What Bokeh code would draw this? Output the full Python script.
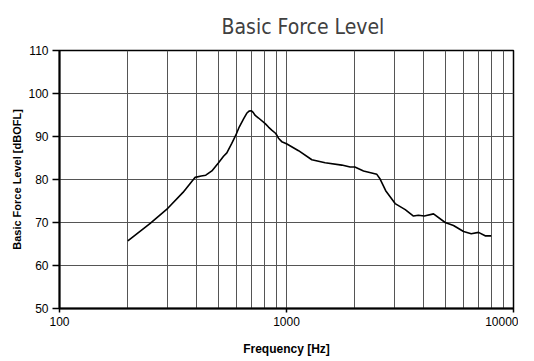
from bokeh.plotting import figure
from bokeh.embed import file_html
from bokeh.resources import INLINE
from bokeh.models import Range1d, FixedTicker, NumeralTickFormatter

freq = [200, 251, 300, 350, 396, 421, 441, 469, 502, 528, 546, 574, 598, 619, 647, 668, 684,
        699, 713, 728, 753, 806, 833, 861, 897, 922, 953, 1000, 1130, 1293, 1480, 1752, 1907,
        2000, 2184, 2500, 2585, 2735, 3010, 3335, 3625, 3810, 4045, 4443, 5000, 5441, 6025,
        6512, 7013, 7500, 7977]
level = [65.7, 69.8, 73.3, 77.0, 80.5, 80.8, 81.0, 82.0, 83.9, 85.4, 86.2, 88.4, 90.3, 92.2,
         94.1, 95.4, 95.9, 96.0, 95.6, 94.9, 94.3, 93.0, 92.2, 91.5, 90.7, 89.6, 88.8, 88.3,
         86.7, 84.6, 83.9, 83.35, 82.9, 82.9, 82.0, 81.2, 80.1, 77.4, 74.4, 73.0, 71.5, 71.7,
         71.5, 72.0, 70.0, 69.3, 67.9, 67.4, 67.7, 66.9, 66.9]
y_ticks = [50, 60, 70, 80, 90, 100, 110]
x_ticks = [100, 1000, 10000]
x_minor = [200, 300, 400, 500, 600, 700, 800, 900,
           2000, 3000, 4000, 5000, 6000, 7000, 8000, 9000]

p = figure(width=518, height=358, x_axis_type="log", output_backend="svg",
           toolbar_location=None, x_range=Range1d(100, 10000), y_range=Range1d(50, 110),
           min_border_left=59, min_border_right=5, min_border_top=44, min_border_bottom=50)

p.title.text = "Basic Force Level"
p.title.align = "left"
p.title.offset = 162
p.title.standoff = 24
p.title.text_font = "DejaVu Sans Condensed, Roboto"
p.title.text_font_size = "21px"
p.title.text_font_style = "normal"
p.title.text_color = "#404040"

p.line(freq, level, line_color="black", line_width=1.6)

p.xaxis.ticker = FixedTicker(ticks=x_ticks, minor_ticks=x_minor)
p.xaxis.formatter = NumeralTickFormatter(format="0")
p.yaxis.ticker = FixedTicker(ticks=y_ticks)

for ax in (p.xaxis, p.yaxis):
    ax.axis_line_color = "black"
    ax.axis_line_width = 2
    ax.major_tick_line_color = "black"
    ax.major_tick_line_width = 1.5
    ax.major_tick_in = 0
    ax.minor_tick_line_color = None
    ax.major_label_text_font = "Liberation Sans"
    ax.major_label_text_font_size = "12px"
    ax.major_label_text_color = "black"
    ax.axis_label_text_font = "Liberation Sans"
    ax.axis_label_text_font_style = "bold"
    ax.axis_label_text_color = "black"

p.xaxis.major_tick_out = 4
p.yaxis.major_tick_out = 7
p.xaxis.major_label_standoff = 4
p.yaxis.major_label_standoff = 4
p.xaxis.axis_label = "Frequency [Hz]"
p.yaxis.axis_label = "Basic Force Level [dBOFL]"
p.xaxis.axis_label_text_font_size = "12px"
p.yaxis.axis_label_text_font_size = "11px"
p.xaxis.axis_label_standoff = 13
p.yaxis.axis_label_standoff = 2

p.xgrid.grid_line_color = "#555555"
p.xgrid.minor_grid_line_color = "#555555"
p.ygrid.grid_line_color = "#555555"

p.outline_line_color = "black"
p.outline_line_width = 1.5
p.background_fill_color = "white"
p.border_fill_color = "white"

open("out.html", "w").write(file_html(p, INLINE))
